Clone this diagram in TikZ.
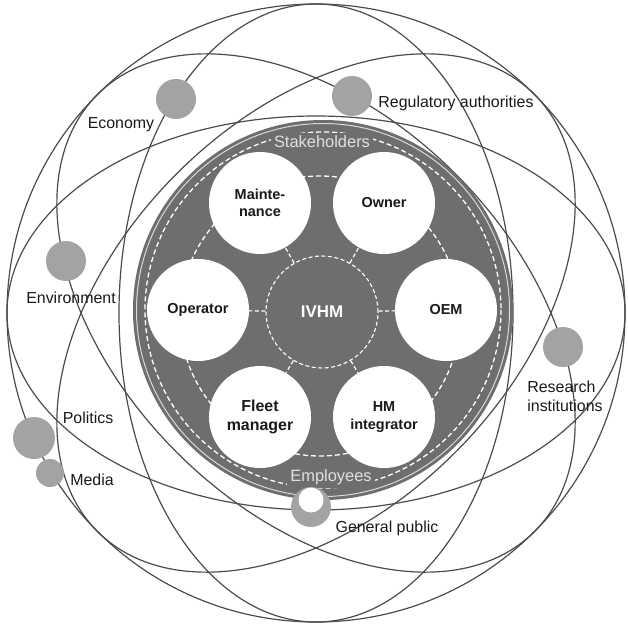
\documentclass[tikz,border=0pt]{standalone}
\usepackage{fontspec}
\setmainfont{Liberation Sans}
\usetikzlibrary{calc}
\definecolor{discgray}{RGB}{110,110,110}
\definecolor{planetgray}{RGB}{163,163,163}
\definecolor{orbitgray}{RGB}{75,75,75}
\definecolor{inktext}{RGB}{25,25,25}

\begin{document}
\begin{tikzpicture}[x=1bp, y=-1bp,
    orbit/.style={draw=orbitgray, line width=1.2pt},
    planet/.style={circle, fill=planetgray, minimum size=40bp, inner sep=0pt},
    member/.style={circle, fill=white, minimum size=102bp, inner sep=0pt, align=center,
        text=inktext, font=\fontsize{14.5}{17.5}\selectfont\bfseries},
    hub/.style={circle, draw=white, dash pattern=on 4bp off 2.5bp, line width=1.1pt, fill=discgray,
        minimum size=112bp, inner sep=0pt, text=white, font=\fontsize{17}{20}\selectfont\bfseries},
    spoke/.style={draw=white, dash pattern=on 4bp off 2.5bp, line width=1.2pt},
    ringlabel/.style={fill=discgray, inner sep=3bp, text=white!88!black, font=\fontsize{16.5}{19}\selectfont},
    outlabel/.style={inner sep=0pt, text=inktext, font=\fontsize{16}{19}\selectfont}]

    \useasboundingbox (0,0) rectangle (628,627);
    \fill[white] (0,0) rectangle (628,627);

    \coordinate (O) at (316,313);
    \coordinate (H) at (323,310);
    \coordinate (R) at (320,316);

    \draw[orbit] (O) circle [radius=309];
    \draw[orbit] (O) ellipse [x radius=309, y radius=197];
    \draw[orbit, rotate around={45:(O)}] (O) ellipse [x radius=309, y radius=197];
    \draw[orbit, rotate around={90:(O)}] (O) ellipse [x radius=309, y radius=197];
    \draw[orbit, rotate around={135:(O)}] (O) ellipse [x radius=309, y radius=197];

    \fill[discgray] (H) circle [radius=190];
    \draw[white!85!black, line width=1pt] (H) circle [radius=186.5];
    \draw[white, dash pattern=on 5bp off 3bp, line width=1.3pt] (H) circle [radius=178];
    \draw[white, dash pattern=on 5bp off 3bp, line width=1.3pt] (R) circle [radius=140];

    \node[ringlabel] (stake) at (322,142) {Stakeholders};
    \node[ringlabel] (staff) at (331,477) {Employees};

    \node[hub] (ivhm) at (322,312) {IVHM};
    \node[member] (maint) at (260,203) {Mainte-\\nance};
    \node[member] (owner) at (384,203) {Owner};
    \node[member] (operator) at (198,310) {Operator};
    \node[member] (oem) at (446,310) {OEM};
    \node[member, font=\fontsize{16}{18.5}\selectfont\bfseries] (fleet) at (260,417) {Fleet\\manager};
    \node[member] (hmint) at (384,417) {HM\\integrator};

    \draw[spoke] (ivhm) -- (maint);
    \draw[spoke] (ivhm) -- (owner);
    \draw[spoke] (ivhm) -- (operator);
    \draw[spoke] (ivhm) -- (oem);
    \draw[spoke] (ivhm) -- (fleet);
    \draw[spoke] (ivhm) -- (hmint);

    \node[planet] (economy) at (176,99) {};
    \node[planet] (environment) at (66,261) {};
    \node[planet] (regulatory) at (352,96) {};
    \node[planet] (research) at (563,347) {};
    \node[planet, minimum size=42bp] (politics) at (34,438) {};
    \node[planet, minimum size=28bp] (media) at (50,473) {};
    \node[planet] (public) at (311,507) {};
    \node[circle, fill=white, minimum size=25bp, inner sep=0pt] (publichole) at (311,500) {};

    \node[outlabel] (economylabel) at (121,125) {Economy};
    \node[outlabel] (regulatorylabel) at (456,103) {Regulatory authorities};
    \node[outlabel] (environmentlabel) at (71,298) {Environment};
    \node[outlabel] (politicslabel) at (88,418) {Politics};
    \node[outlabel] (medialabel) at (92,480) {Media};
    \node[outlabel] (publiclabel) at (387,528) {General public};
    \node[outlabel, align=left] (researchlabel) at (565,396) {Research\\institutions};
\end{tikzpicture}
\end{document}
